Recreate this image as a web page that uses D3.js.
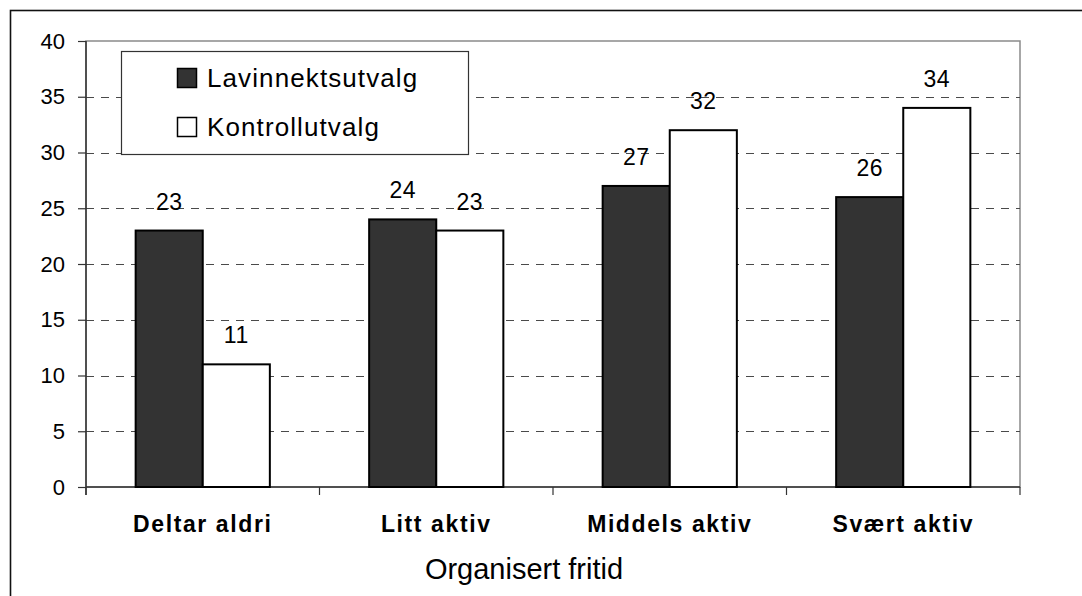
<!DOCTYPE html>
<html>
<head>
<meta charset="utf-8">
<script src="https://cdn.jsdelivr.net/npm/d3@7"></script>
<style>
  html, body { margin: 0; padding: 0; background: #fff; }
  svg { display: block; }
  text { font-family: "Liberation Sans", Arial, sans-serif; fill: #000; }
</style>
</head>
<body>
<div id="app"></div>
<script>
// data
const categories = ["Deltar aldri", "Litt aktiv", "Middels aktiv", "Svært aktiv"];
const seriesNames = ["Lavinnektsutvalg", "Kontrollutvalg"];
const lavinntekt = [23, 24, 27, 26];
const kontroll = [11, 23, 32, 34];
const yTicks = [0, 5, 10, 15, 20, 25, 30, 35, 40];
const xTitle = "Organisert fritid";

const colors = ["#333333", "#ffffff"];

function render() {
  const width = 1082, height = 596;
  const svg = d3.select('#app').append('svg')
    .attr('width', width)
    .attr('height', height);

  // ytre ramme
  svg.append('rect')
    .attr('x', 10.5).attr('y', 10.5)
    .attr('width', 1090).attr('height', 600)
    .attr('fill', 'none').attr('stroke', '#111').attr('stroke-width', 1.6);

  const plot = { left: 86, right: 1020, top: 41, bottom: 487 };

  const y = d3.scaleLinear().domain([0, 40]).range([plot.bottom, plot.top]);
  const x0 = d3.scaleBand().domain(categories).range([plot.left, plot.right])
    .paddingInner(0).paddingOuter(0);
  const x1 = d3.scaleBand().domain(seriesNames).range([0, x0.bandwidth()])
    .paddingInner(0).paddingOuter(0.74);

  // plottområde ramme (grå)
  svg.append('rect')
    .attr('x', plot.left).attr('y', plot.top)
    .attr('width', plot.right - plot.left).attr('height', plot.bottom - plot.top)
    .attr('fill', 'none').attr('stroke', '#8a8a8a').attr('stroke-width', 1.5);

  // rutenett
  svg.append('g').selectAll('line')
    .data(yTicks.filter(d => d > 0 && d < 40))
    .join('line')
    .attr('x1', plot.left).attr('x2', plot.right)
    .attr('y1', d => Math.round(y(d)) + 0.5).attr('y2', d => Math.round(y(d)) + 0.5)
    .attr('stroke', '#4a4a4a').attr('stroke-dasharray', '8,7');

  // y-akse
  const yAxis = svg.append('g')
    .attr('transform', `translate(${plot.left},0)`)
    .call(d3.axisLeft(y).tickValues(yTicks).tickSize(8).tickPadding(13));
  yAxis.select('.domain').attr('stroke', '#333').attr('stroke-width', 1.5)
    .attr('d', `M0,${plot.top}V${plot.bottom + 8}`);
  yAxis.selectAll('.tick line').attr('stroke', '#333').attr('stroke-width', 1.2);
  yAxis.selectAll('.tick text')
    .attr('font-size', 22)
    .style('font-family', '"Liberation Sans", Arial, sans-serif')
    .attr('fill', '#000');

  // x-akse
  const xAxis = svg.append('g')
    .attr('transform', `translate(0,${plot.bottom})`);
  xAxis.append('line')
    .attr('x1', plot.left).attr('x2', plot.right)
    .attr('y1', 0).attr('y2', 0)
    .attr('stroke', '#333').attr('stroke-width', 1.5);
  const bounds = categories.map(c => x0(c)).concat([plot.right]);
  xAxis.selectAll('.ctick').data(bounds).join('line')
    .attr('class', 'ctick')
    .attr('x1', d => d).attr('x2', d => d)
    .attr('y1', 0).attr('y2', 8)
    .attr('stroke', '#333').attr('stroke-width', 1.2);

  // søyler
  const series = [lavinntekt, kontroll];
  const rows = [];
  categories.forEach((c, i) => {
    seriesNames.forEach((s, j) => rows.push({ cat: c, s: s, j: j, v: series[j][i] }));
  });

  svg.append('g').selectAll('rect')
    .data(rows)
    .join('rect')
    .attr('x', d => x0(d.cat) + x1(d.s))
    .attr('y', d => y(d.v))
    .attr('width', x1.bandwidth())
    .attr('height', d => y(0) - y(d.v))
    .attr('fill', d => colors[d.j])
    .attr('stroke', '#000')
    .attr('stroke-width', 2);

  // verdietiketter
  svg.append('g').selectAll('text')
    .data(rows)
    .join('text')
    .attr('x', d => x0(d.cat) + x1(d.s) + x1.bandwidth() / 2)
    .attr('y', d => y(d.v) - 21)
    .attr('text-anchor', 'middle')
    .attr('font-size', 23)
    .attr('letter-spacing', 0.5)
    .text(d => d.v);

  // kategorietiketter
  svg.append('g').selectAll('text')
    .data(categories)
    .join('text')
    .attr('x', d => x0(d) + x0.bandwidth() / 2)
    .attr('y', 532)
    .attr('text-anchor', 'middle')
    .attr('font-size', 23)
    .attr('font-weight', 'bold')
    .attr('letter-spacing', 1.6)
    .text(d => d);

  // aksetittel
  svg.append('text')
    .attr('x', 524).attr('y', 579)
    .attr('text-anchor', 'middle')
    .attr('font-size', 29)
    .text(xTitle);

  // forklaring
  const legend = svg.append('g');
  legend.append('rect')
    .attr('x', 121.5).attr('y', 51.5)
    .attr('width', 347).attr('height', 103)
    .attr('fill', '#fff').attr('stroke', '#333').attr('stroke-width', 1.2);
  const items = legend.selectAll('g.item')
    .data(seriesNames)
    .join('g')
    .attr('class', 'item')
    .attr('transform', (d, i) => `translate(177,${68 + i * 49})`);
  items.append('rect')
    .attr('x', 0.5).attr('y', 0.5)
    .attr('width', 19).attr('height', 19)
    .attr('fill', (d, i) => colors[i])
    .attr('stroke', '#000').attr('stroke-width', 1.5);
  items.append('text')
    .attr('x', 30).attr('y', 18.5)
    .attr('font-size', 26)
    .attr('letter-spacing', 1.1)
    .text(d => d);
}

render();
</script>
</body>
</html>
